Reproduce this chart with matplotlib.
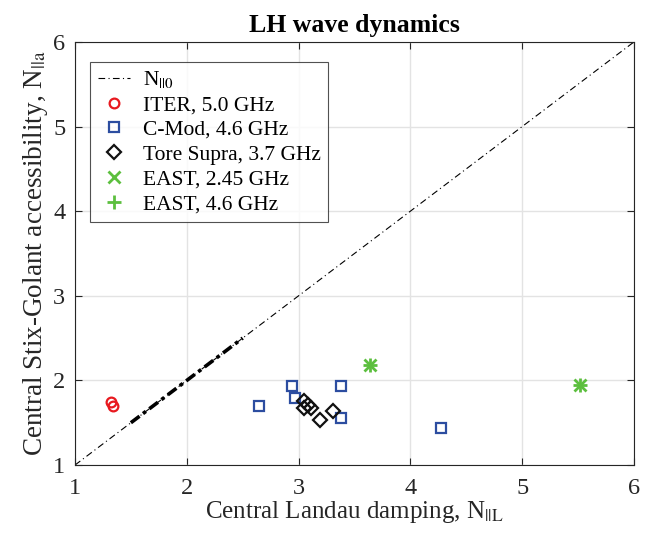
import numpy as np
import matplotlib
matplotlib.use('Agg')
import matplotlib.pyplot as plt

# data
iter_x = [1.32, 1.34]
iter_y = [1.75, 1.70]

cmod_x = [2.65, 2.94, 2.97, 3.38, 3.38, 4.27]
cmod_y = [1.70, 1.93, 1.79, 1.93, 1.56, 1.44]

ts_x = [3.05, 3.05, 3.08, 3.11, 3.19, 3.31]
ts_y = [1.76, 1.67, 1.71, 1.67, 1.53, 1.64]

east245_x = [3.64, 5.52]
east245_y = [2.18, 1.95]
east46_x = [3.64, 5.52]
east46_y = [2.18, 1.95]

# N||0 line, and the range covered by the individual cases
diag = [1, 6]
nparl0_range = [1.5, 2.5]

plt.rcParams['font.family'] = ['Liberation Serif', 'DejaVu Serif']
plt.rcParams['mathtext.fontset'] = 'stix'

fig = plt.figure(figsize=(6.55, 5.37), dpi=100)
ax = fig.add_axes([0.1145, 0.134, 0.8535, 0.788])

txt = '#262626'

ax.plot(diag, diag, color='k', lw=0.8, dashes=(6, 3, 1, 3), label=r'N$_{||0}$')
ax.plot(nparl0_range, nparl0_range, color='k', lw=2.6, dashes=(3, 1.2, 1, 1.2))

ax.plot(iter_x, iter_y, 'o', mfc='none', mec='#e8191f', mew=1.6, ms=7,
        label='ITER, 5.0 GHz')
ax.plot(cmod_x, cmod_y, 's', mfc='none', mec='#2c4da0', mew=1.6, ms=6.5,
        label='C-Mod, 4.6 GHz')
ax.plot(ts_x, ts_y, 'D', mfc='none', mec='#111111', mew=1.6, ms=7,
        label='Tore Supra, 3.7 GHz')
ax.plot(east245_x, east245_y, 'x', color='#5cbf3e', mew=2, ms=8,
        label='EAST, 2.45 GHz')
ax.plot(east46_x, east46_y, '+', color='#5cbf3e', mew=2, ms=10,
        label='EAST, 4.6 GHz')

ax.set_xlim(1, 6)
ax.set_ylim(1, 6)
ax.set_xticks([1, 2, 3, 4, 5, 6])
ax.set_yticks([1, 2, 3, 4, 5, 6])
ax.grid(True, color='#e3e3e3', lw=1)
ax.set_axisbelow(True)
ax.tick_params(direction='in', top=True, right=True, length=5, width=0.8,
               colors=txt, labelsize=17.5)
ax.tick_params(axis='x', pad=9)
ax.tick_params(axis='y', pad=7)
for s in ax.spines.values():
    s.set_color(txt)
    s.set_linewidth(0.8)

ax.set_xlabel(r'Central Landau damping, N$_{||\mathrm{L}}$', fontsize=18,
              color=txt, labelpad=0)
ax.set_ylabel(r'Central Stix-Golant accessibility, N$_{||\mathrm{a}}$',
              fontsize=19.5, color=txt, labelpad=2)
ax.set_title('LH wave dynamics', fontsize=18.5, fontweight='bold', pad=7)

leg = ax.legend(loc='upper left', fontsize=15.5, frameon=True, fancybox=False,
                edgecolor=txt, handlelength=1.5, borderpad=0.35,
                labelspacing=0.22, handletextpad=0.6, borderaxespad=0,
                bbox_to_anchor=(0.027, 0.953))
leg.get_frame().set_linewidth(0.8)

fig.savefig('out.png', dpi=100)
